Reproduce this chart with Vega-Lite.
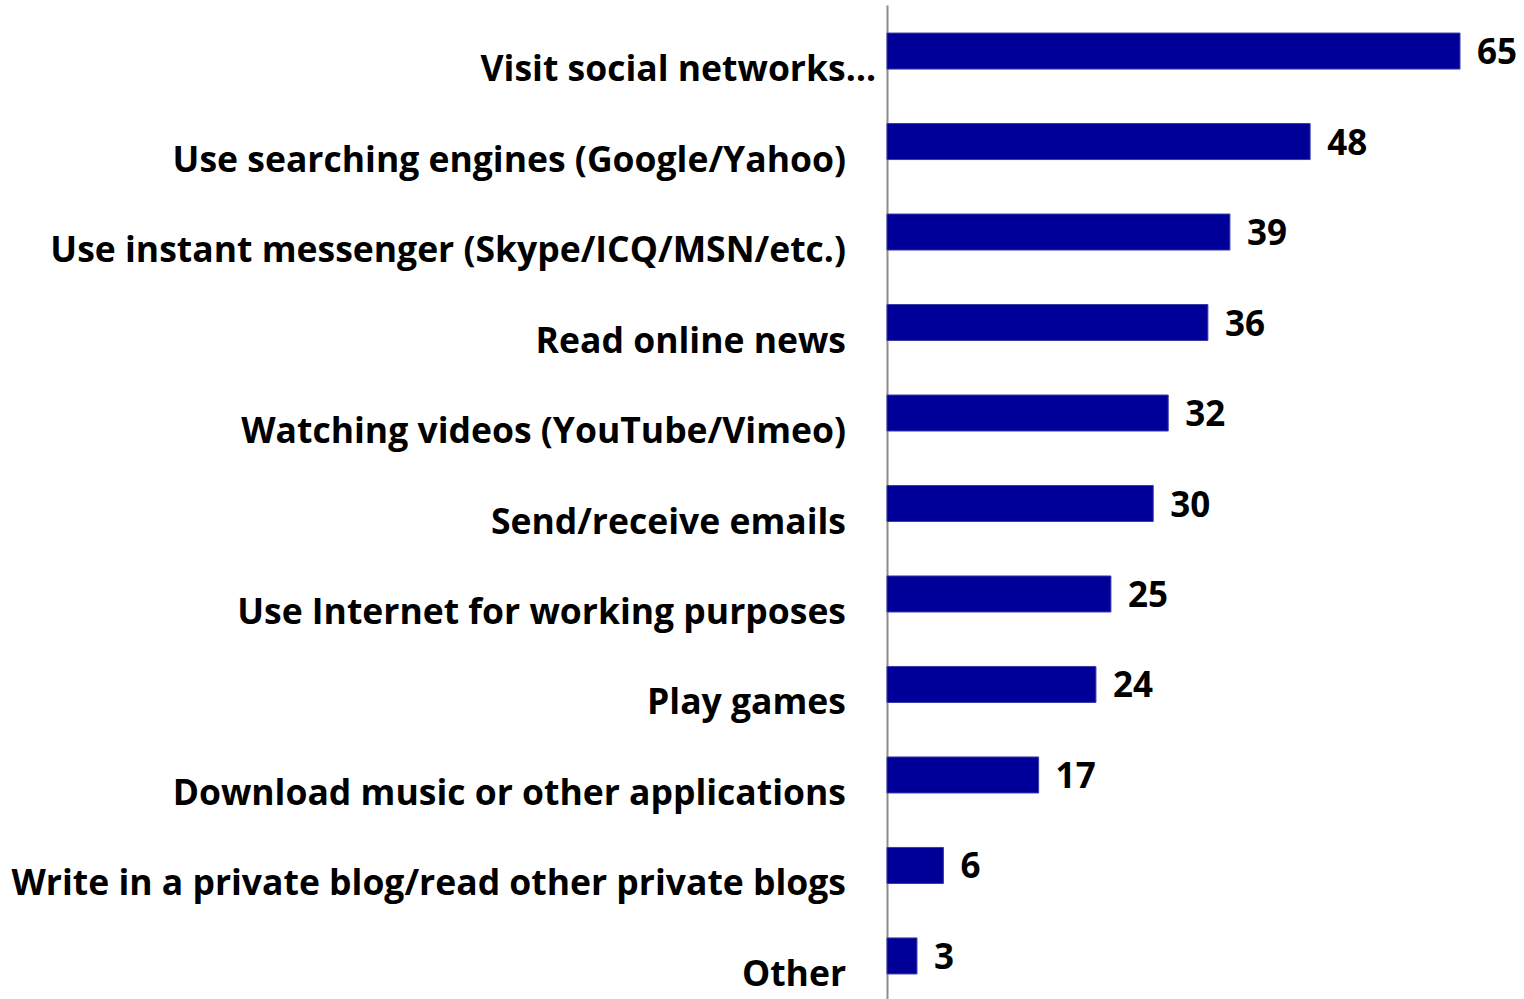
{
  "$schema": "https://vega.github.io/schema/vega-lite/v6.json",
  "autosize": {"type": "none"},
  "padding": {"left": 887, "top": 5, "right": 64, "bottom": 0},
  "width": 573,
  "height": 997,
  "background": "white",
  "config": {"view": {"stroke": null}},
  "data": {
    "values": [
      {"activity": "Visit social networks…", "value": 65, "first": 1},
      {"activity": "Use searching engines (Google/Yahoo)", "value": 48, "first": 0},
      {"activity": "Use instant messenger (Skype/ICQ/MSN/etc.)", "value": 38.9, "first": 0},
      {"activity": "Read online news", "value": 36.4, "first": 0},
      {"activity": "Watching videos (YouTube/Vimeo)", "value": 31.9, "first": 0},
      {"activity": "Send/receive emails", "value": 30.2, "first": 0},
      {"activity": "Use Internet for working purposes", "value": 25.4, "first": 0},
      {"activity": "Play games", "value": 23.7, "first": 0},
      {"activity": "Download music or other applications", "value": 17.2, "first": 0},
      {"activity": "Write in a private blog/read other private blogs", "value": 6.4, "first": 0},
      {"activity": "Other", "value": 3.4, "first": 0}
    ]
  },
  "encoding": {
    "y": {
      "field": "activity",
      "type": "nominal",
      "sort": null,
      "scale": {"paddingInner": 0.602, "paddingOuter": 0.31},
      "axis": {"labels": false, "ticks": false, "title": null, "domainColor": "#8c8c8c", "domainWidth": 2}
    }
  },
  "layer": [
    {
      "mark": {"type": "bar", "color": "#000099", "stroke": "#3a3aa8", "strokeWidth": 1},
      "encoding": {
        "x": {"field": "value", "type": "quantitative", "scale": {"domain": [0, 65], "nice": false, "zero": true}, "axis": null}
      }
    },
    {
      "mark": {"type": "text", "align": "left", "baseline": "middle", "dx": 17, "dy": 2, "font": "Open Sans", "fontWeight": "bold", "fontSize": 35, "color": "black"},
      "encoding": {
        "x": {"field": "value", "type": "quantitative"},
        "text": {"field": "value", "type": "quantitative", "format": ".0f"}
      }
    },
    {
      "transform": [{"filter": "datum.first == 0"}],
      "mark": {"type": "text", "align": "right", "baseline": "middle", "dx": -41, "dy": 19, "font": "Open Sans", "fontWeight": "bold", "fontSize": 35.5, "color": "black"},
      "encoding": {
        "x": {"datum": 0, "type": "quantitative"},
        "text": {"field": "activity"}
      }
    },
    {
      "transform": [{"filter": "datum.first == 1"}],
      "mark": {"type": "text", "align": "right", "baseline": "middle", "dx": -11, "dy": 19, "font": "Open Sans", "fontWeight": "bold", "fontSize": 35.5, "color": "black"},
      "encoding": {
        "x": {"datum": 0, "type": "quantitative"},
        "text": {"field": "activity"}
      }
    }
  ]
}
